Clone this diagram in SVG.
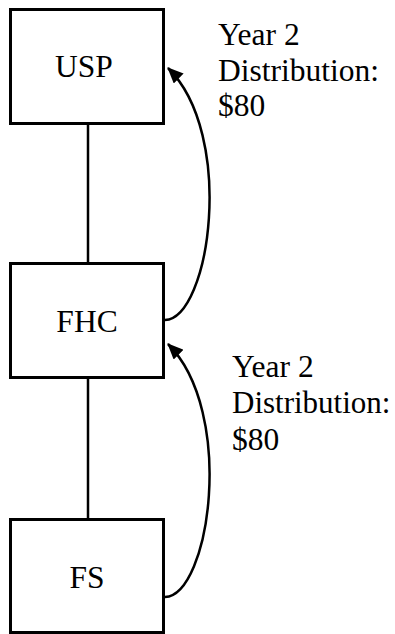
<svg xmlns="http://www.w3.org/2000/svg" width="395" height="634" viewBox="0 0 395 634">
<style>
.box{fill:#fff;stroke:#000;stroke-width:3}
.ln{fill:none;stroke:#000;stroke-width:2.5}
</style>
<defs>
<marker id="ah" markerWidth="16" markerHeight="14" refX="15" refY="7" orient="auto" markerUnits="userSpaceOnUse">
<path d="M0,0 L16,7 L0,14 Z" fill="#000"/>
</marker>
</defs>
<rect width="395" height="634" fill="#fff"/>
<g id="connectors">
<line class="ln" x1="88" y1="124" x2="88" y2="263"/>
<line class="ln" x1="88" y1="377" x2="88" y2="519"/>
<path class="ln" d="M165,320 C210,318 236,135 168,68" marker-end="url(#ah)"/>
<path class="ln" d="M165,597 C210,595 236,412 168,344" marker-end="url(#ah)"/>
</g>
<g font-family="Liberation Serif, Times New Roman, serif" font-size="31.5" fill="#000">
<g id="USP">
<rect class="box" x="10.5" y="9.5" width="153" height="114"/>
<text x="84" y="77" text-anchor="middle">USP</text>
</g>
<g id="FHC">
<rect class="box" x="10.5" y="263.5" width="153" height="114"/>
<text x="87" y="332" text-anchor="middle">FHC</text>
</g>
<g id="FS">
<rect class="box" x="10.5" y="519.5" width="153" height="113"/>
<text x="87" y="588" text-anchor="middle">FS</text>
</g>
<g id="label1">
<text x="218" y="45">Year 2</text>
<text x="218" y="81">Distribution:</text>
<text x="218" y="116">$80</text>
</g>
<g id="label2">
<text x="232" y="377">Year 2</text>
<text x="232" y="413" font-size="31">Distribution:</text>
<text x="232" y="450">$80</text>
</g>
</g>
</svg>
